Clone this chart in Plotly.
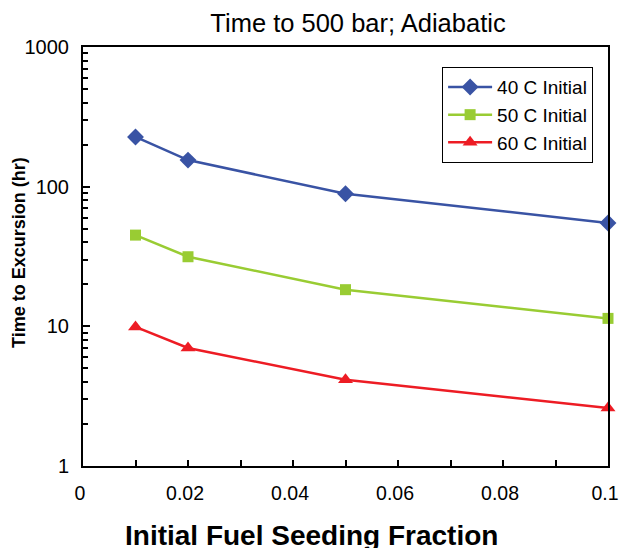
import plotly.graph_objects as go

fraction = [0.01, 0.02, 0.05, 0.1]
t40 = [227, 155, 89, 55]
t50 = [45, 31.5, 18.3, 11.4]
t60 = [9.9, 7.0, 4.15, 2.6]
series_names = ["40 C Initial", "50 C Initial", "60 C Initial"]
colors = ["#3953a4", "#99cc33", "#ed1c24"]
symbols = ["diamond", "square", "triangle-up"]
x_ticks = [0, 0.02, 0.04, 0.06, 0.08, 0.1]
x_ticktext = ["0", "0.02", "0.04", "0.06", "0.08", "0.1"]
y_ticks = [1, 10, 100, 1000]
y_ticktext = ["1", "10", "100", "1000"]

fig = go.Figure()
for name, vals, c, s in zip(series_names, [t40, t50, t60], colors, symbols):
    fig.add_trace(go.Scatter(
        x=fraction, y=vals, mode="lines+markers", name=name,
        line=dict(color=c, width=2.5), cliponaxis=False,
        marker=dict(symbol=s, size=13 if s != "square" else 11, color=c),
    ))

W, H = 620, 548
font = "Liberation Sans, Arial, sans-serif"
minor_y = [m * 10 ** e for e in range(0, 3) for m in range(2, 10)]
fig.update_layout(
    width=W, height=H,
    margin=dict(l=83, r=12, t=47, b=82, autoexpand=False),
    paper_bgcolor="white", plot_bgcolor="white",
    font=dict(family=font, size=20, color="black"),
    title=dict(text="Time to 500 bar; Adiabatic", x=358 / W, xref="container", xanchor="center",
               y=1 - 23 / H, yref="container", yanchor="middle", font=dict(size=25.5)),
    showlegend=True,
    legend=dict(x=0.684, y=0.952, xanchor="left", yanchor="top",
                bordercolor="black", borderwidth=1, bgcolor="white",
                font=dict(size=19), tracegroupgap=3, itemwidth=44),
    xaxis=dict(range=[0, 0.1000001], tickvals=x_ticks, ticktext=x_ticktext,
               ticks="inside", ticklen=6, tickwidth=2, tickcolor="black",
               minor=dict(ticks="inside", ticklen=6, tickwidth=2, tickcolor="black", dtick=0.01),
               showline=True, linecolor="black", linewidth=2, mirror=True,
               showgrid=False, zeroline=False, ticklabelstandoff=9,
               ticklabelshift=-3, ticklabeloverflow="allow",
               tickfont=dict(size=19.5), automargin=False),
    yaxis=dict(type="log", range=[0, 3], tickvals=y_ticks, ticktext=y_ticktext,
               ticks="inside", ticklen=7, tickwidth=2, tickcolor="black",
               minor=dict(ticks="inside", ticklen=5, tickwidth=2, tickcolor="black", tickvals=minor_y),
               showline=True, linecolor="black", linewidth=2, mirror=True,
               showgrid=False, zeroline=False, ticklabelstandoff=8,
               ticklabeloverflow="allow",
               tickfont=dict(size=20), automargin=False),
    annotations=[
        dict(text="<b>Initial Fuel Seeding Fraction</b>", xref="paper", yref="paper",
             x=0.5 * (120 + 503 - 2 * 83) / 525, y=(466 - 535) / 419,
             xanchor="center", yanchor="middle", showarrow=False, font=dict(size=28)),
        dict(text="<b>Time to Excursion (hr)</b>", xref="paper", yref="paper",
             x=(19 - 83) / 525, y=(466 - 253) / 419, textangle=-90,
             xanchor="center", yanchor="middle", showarrow=False, font=dict(size=18)),
    ],
)
page_css = ("document.documentElement.style.margin='0';document.body.style.margin='0';"
            "document.documentElement.style.overflow='hidden';document.body.style.overflow='hidden';")
fig.write_html("out.html", post_script=page_css, config={"displayModeBar": False})
